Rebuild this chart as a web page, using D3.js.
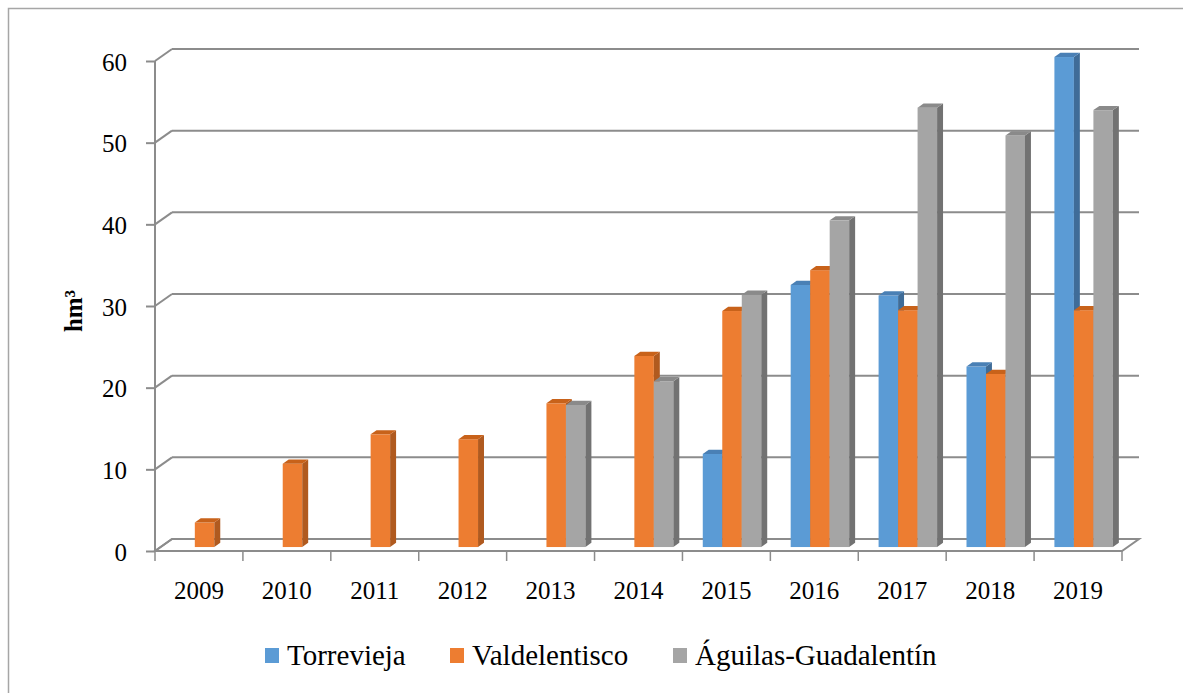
<!DOCTYPE html>
<html><head><meta charset="utf-8">
<script src="https://cdn.jsdelivr.net/npm/d3@7"></script>
<style>body{margin:0;background:#fff}svg{display:block}</style>
</head><body><svg id="c" width="1183" height="693"></svg>
<script>
const years = ["2009","2010","2011","2012","2013","2014","2015","2016","2017","2018","2019"];
const seriesNames = ["Torrevieja","Valdelentisco","Águilas-Guadalentín"];
const torrevieja = [null,null,null,null,null,null,11.4,32.1,30.8,22.1,60.0];
const valdelentisco = [3.0,10.2,13.8,13.2,17.6,23.4,28.9,33.9,29.0,21.2,29.0];
const aguilas = [null,null,null,null,17.4,20.3,30.9,40.0,53.8,50.4,53.5];
const yTicks = [0,10,20,30,40,50,60];
const seriesColors = [
  {front:"#5b9bd5", side:"#3f6c98", top:"#4a80b5"},
  {front:"#ed7d31", side:"#b05a1f", top:"#c8621a"},
  {front:"#a5a5a5", side:"#727272", top:"#8a8a8a"}
];
const values = [torrevieja, valdelentisco, aguilas];

const svg = d3.select("#c");
const FONT = "'Liberation Serif', 'DejaVu Serif', serif";
// frame
svg.append("path").attr("d","M8.5,693 L8.5,8.5 L1183,8.5").attr("fill","none").attr("stroke","#a6a6a6").attr("stroke-width",1.5);

const x0 = 155, x1 = 1122, yBase = 551, yTop = 61;
const DX = 17, DY = -12;       // depth offset of back wall
const x = d3.scaleBand().domain(years).range([x0, x1]);
const y = d3.scaleLinear().domain([0,60]).range([yBase, yTop]);
const bw = 19.5;
const sub = d3.scaleBand().domain(seriesNames).range([(x.bandwidth()-3*bw)/2, (x.bandwidth()+3*bw)/2]);
const gridColor = "#8c8c8c";

// floor
svg.append("path")
  .attr("d", `M${x0},${yBase} L${x1},${yBase} L${x1+DX},${yBase+DY} L${x0+DX},${yBase+DY} Z`)
  .attr("fill","#fff").attr("stroke",gridColor).attr("stroke-width",2);

// back wall gridlines + side diagonals
const grid = svg.append("g");
yTicks.forEach(v => {
  if (v > 0) {
    grid.append("line").attr("x1",x0+DX).attr("x2",x1+DX).attr("y1",y(v)+DY).attr("y2",y(v)+DY)
      .attr("stroke",gridColor).attr("stroke-width",2);
  }
  grid.append("line").attr("x1",x0).attr("x2",x0+DX).attr("y1",y(v)).attr("y2",y(v)+DY)
    .attr("stroke",gridColor).attr("stroke-width",2);
});

// y axis line and ticks
svg.append("line").attr("x1",x0).attr("x2",x0).attr("y1",y(60)).attr("y2",yBase+0.5).attr("stroke",gridColor).attr("stroke-width",2);
const yAxis = d3.axisLeft(y).tickValues(yTicks).tickSize(9).tickPadding(19).tickFormat(d3.format("d"));
const gy = svg.append("g").attr("transform",`translate(${x0},0)`).call(yAxis);
gy.select(".domain").remove();
gy.selectAll(".tick line").attr("stroke",gridColor).attr("stroke-width",2);
gy.selectAll(".tick text").attr("font-family",FONT).attr("font-size",25).attr("fill","#000").attr("dy","0.36em");

// x axis
const xAxis = d3.axisBottom(x).tickSize(0).tickPadding(30);
const gx = svg.append("g").attr("transform",`translate(0,${yBase})`).call(xAxis);
gx.select(".domain").remove();
gx.selectAll(".tick text").attr("font-family",FONT).attr("font-size",25).attr("fill","#000");
const bounds = years.map(d => x(d)).concat([x1]);
svg.append("g").selectAll("line").data(bounds).join("line")
  .attr("x1",d=>d).attr("x2",d=>d).attr("y1",yBase).attr("y2",yBase+10)
  .attr("stroke",gridColor).attr("stroke-width",1.5);

// bars
const t0 = 0.33, t1 = 0.68;
const bdx = DX*t0, bdy = DY*t0, ddx = DX*(t1-t0), ddy = DY*(t1-t0);
const bars = svg.append("g");
years.forEach((yr, i) => {
  seriesNames.forEach((s, j) => {
    const v = values[j][i];
    if (v == null) return;
    const c = seriesColors[j];
    const xl = x(yr) + sub(s) + bdx, xr = xl + bw;
    const yb = y(0) + bdy, yt = y(v) + bdy;
    const g = bars.append("g");
    g.append("rect").attr("x",xl).attr("y",yt).attr("width",bw).attr("height",yb-yt).attr("fill",c.front);
    g.append("path").attr("d",`M${xr},${yt} L${xr+ddx},${yt+ddy} L${xr+ddx},${yb+ddy} L${xr},${yb} Z`).attr("fill",c.side);
    g.append("path").attr("d",`M${xl},${yt} L${xr},${yt} L${xr+ddx},${yt+ddy} L${xl+ddx},${yt+ddy} Z`).attr("fill",c.top);
  });
});

// y title
svg.append("text").attr("transform","translate(82,311) rotate(-90)").attr("text-anchor","middle")
  .attr("font-family",FONT).attr("font-size",25).attr("font-weight","bold").text("hm³");

// legend
const legX = [265, 450, 673];
const leg = svg.append("g");
seriesNames.forEach((s, j) => {
  leg.append("rect").attr("x",legX[j]).attr("y",648).attr("width",14).attr("height",15).attr("fill",seriesColors[j].front);
  leg.append("text").attr("x",legX[j]+22).attr("y",665).attr("font-family",FONT).attr("font-size",29).attr("fill","#000").text(s);
});
</script></body></html>
